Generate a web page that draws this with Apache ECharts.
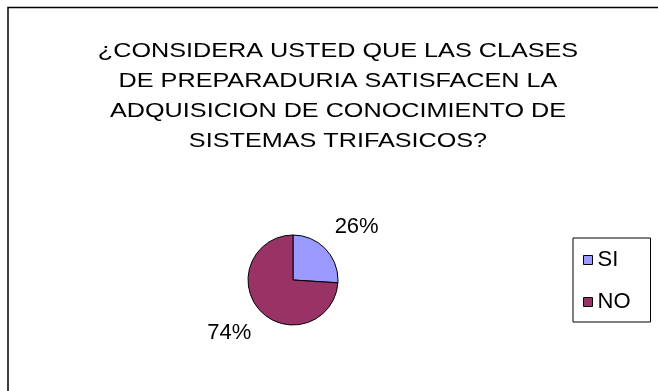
<!DOCTYPE html>
<html>
<head>
<meta charset="utf-8">
<script src="https://cdn.jsdelivr.net/npm/echarts@6/dist/echarts.min.js"></script>
<style>
  html, body { margin: 0; padding: 0; background: #fff; }
  #chart { width: 658px; height: 391px; }
</style>
</head>
<body>
<div id="chart"></div>
<script>
// Survey answers and their shares (%)
const categories = ['SI', 'NO'];
const shares = [26, 74];
const sliceColors = ['#9999FF', '#993366'];
const titleLines = [
  '¿CONSIDERA USTED QUE LAS CLASES',
  'DE PREPARADURIA SATISFACEN LA',
  'ADQUISICION DE CONOCIMIENTO DE',
  'SISTEMAS TRIFASICOS?'
];

const FONT = '"Liberation Sans", Arial, sans-serif';

const chart = echarts.init(document.getElementById('chart'), null, { renderer: 'canvas' });

chart.setOption({
  backgroundColor: '#ffffff',
  animation: false,
  graphic: [
    {
      // chart frame (left and top edges visible)
      type: 'rect',
      shape: { x: 8, y: 7.5, width: 700, height: 450 },
      style: { fill: 'none', stroke: '#000', lineWidth: 1.5 },
      silent: true
    },
    {
      // heading, drawn a little wider than the stock font
      type: 'text',
      x: 338,
      y: 36,
      scaleX: 1.2,
      style: {
        text: titleLines.join('\n'),
        fontFamily: FONT,
        fontSize: 21,
        lineHeight: 30,
        fill: '#000',
        align: 'center',
        verticalAlign: 'top'
      },
      silent: true
    }
  ],
  legend: {
    orient: 'vertical',
    left: 573,
    top: 238,
    padding: [11, 20, 9, 10],
    itemGap: 20,
    itemWidth: 9,
    itemHeight: 9,
    icon: 'rect',
    borderColor: '#000',
    borderWidth: 1,
    borderRadius: 0,
    itemStyle: { borderColor: '#000', borderWidth: 1 },
    textStyle: { fontFamily: FONT, fontSize: 22, lineHeight: 22, color: '#000' },
    data: categories
  },
  series: [
    {
      type: 'pie',
      center: [293, 280],
      radius: 45,
      startAngle: 90,
      clockwise: true,
      avoidLabelOverlap: false,
      color: sliceColors,
      itemStyle: { borderColor: '#000', borderWidth: 1 },
      label: {
        show: true,
        position: 'outside',
        formatter: '{d}%',
        fontFamily: FONT,
        fontSize: 22,
        color: '#000',
        distanceToLabelLine: -14.5
      },
      labelLine: { show: false, length: 32, length2: 0 },
      emphasis: { disabled: true },
      data: categories.map((name, i) => ({ name, value: shares[i] }))
    }
  ]
});
</script>
</body>
</html>
